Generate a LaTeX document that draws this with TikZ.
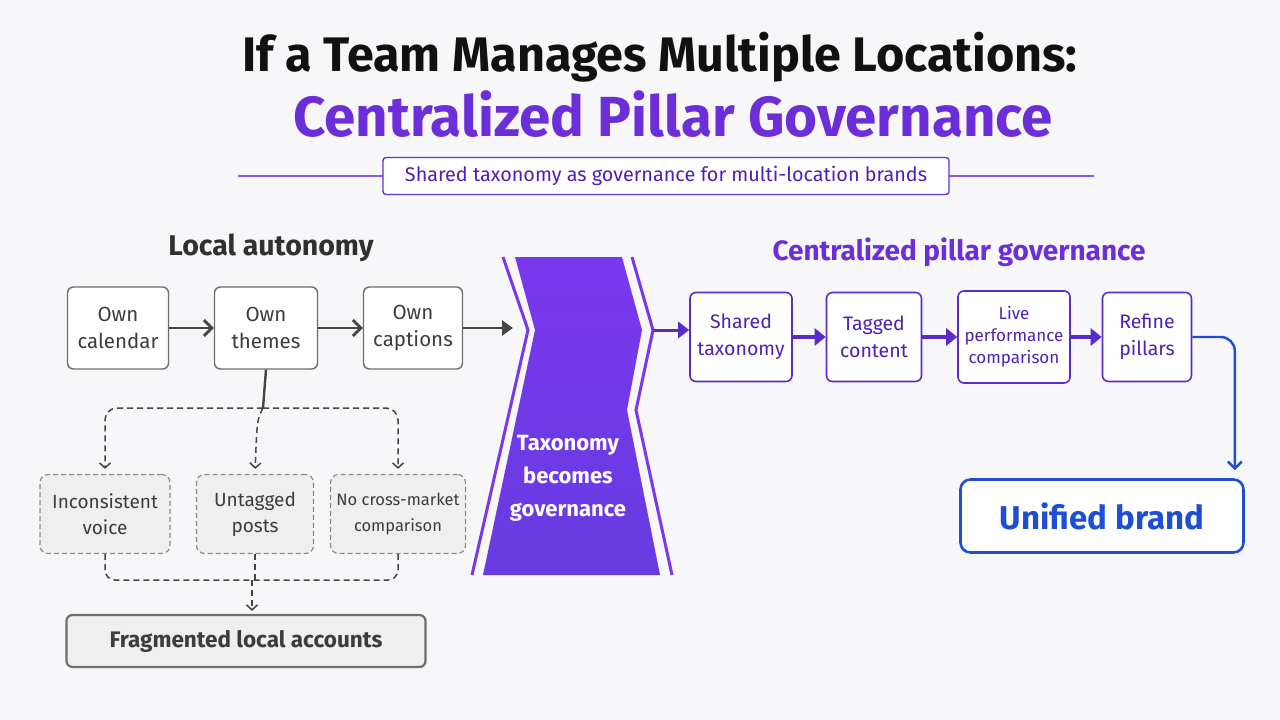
\documentclass[tikz,border=0pt]{standalone}
\usepackage{fontspec}
\setmainfont{Fira Sans}
\usetikzlibrary{arrows.meta,positioning}

\definecolor{bgcol}{HTML}{F7F7FA}
\definecolor{titleblack}{HTML}{111111}
\definecolor{titlepurple}{HTML}{6B2ED8}
\definecolor{subpurple}{HTML}{4D1FB8}
\definecolor{boxgray}{HTML}{6E6E6E}
\definecolor{txtgray}{HTML}{3C3C3C}
\definecolor{dashgray}{HTML}{8A8A8A}
\definecolor{riskfill}{HTML}{EFEFF0}
\definecolor{arrgray}{HTML}{454545}
\definecolor{govtop}{HTML}{7A38EE}
\definecolor{govbot}{HTML}{673BE0}
\definecolor{pillline}{HTML}{5A2BC8}
\definecolor{pilltext}{HTML}{4B22B2}
\definecolor{brandblue}{HTML}{1E4ED4}

\tikzset{
  ownbox/.style={draw=boxgray, line width=1.4pt, fill=white, rounded corners=6pt,
    align=center, text=txtgray, font=\fontsize{20.5}{27}\selectfont, minimum height=82pt},
  riskbox/.style={draw=dashgray, dash pattern=on 5pt off 3pt, line width=1.2pt, fill=riskfill,
    rounded corners=8pt, align=center, text=txtgray, font=\fontsize{19}{26}\selectfont,
    minimum height=79pt},
  pillbox/.style={draw=pillline, line width=1.6pt, fill=white, rounded corners=6pt,
    align=center, text=pilltext, font=\fontsize{19.5}{27}\selectfont, minimum height=89pt},
  grayarrow/.style={arrgray, line width=2.8pt, -{Straight Barb[length=8pt,width=16pt]}},
  dasharrow/.style={arrgray, line width=1.5pt, dash pattern=on 6pt off 4pt,
    -{Straight Barb[length=5pt,width=11pt]}},
  pillarrow/.style={pillline, line width=3.8pt, -{Triangle[length=11pt,width=17pt]}}
}

\begin{document}
\begin{tikzpicture}[x=1pt, y=-1pt, every node/.style={inner sep=0pt}]
  \fill[bgcol] (0,0) rectangle (1280,720);
  \useasboundingbox (0,0) rectangle (1280,720);

  \node[titleblack, font=\fontsize{48.5}{56}\bfseries] (title) at (660,57)
    {If a Team Manages Multiple Locations:};
  \node[titlepurple, font=\fontsize{56.5}{64}\bfseries] (subtitle) at (673,114)
    {Centralized Pillar Governance};

  \draw[titlepurple!80, line width=1.2pt] (238,176) -- (1094,176);
  \node[draw=titlepurple, line width=1.4pt, fill=white, rounded corners=3pt,
    minimum width=566pt, minimum height=37pt, text=subpurple,
    font=\fontsize{19.8}{24}\selectfont] (tagline) at (666,176)
    {Shared taxonomy as governance for multi-location brands};

  \node[txtgray!80!black, font=\fontsize{28.5}{32}\bfseries] (localhead) at (271,248)
    {Local autonomy};
  \node[titlepurple, font=\fontsize{28}{32}\bfseries] (centralhead) at (959,252)
    {Centralized pillar governance};

  \node[ownbox, minimum width=101pt] (calendar) at (118,328) {Own\\calendar};
  \node[ownbox, minimum width=103pt] (themes) at (266,328) {Own\\themes};
  \node[ownbox, minimum width=99pt] (captions) at (413,328) {Own\\captions};

  \draw[grayarrow] (calendar) -- (themes);
  \draw[grayarrow] (themes) -- (captions);

  \node[riskbox, minimum width=130pt] (voice) at (105,514) {Inconsistent\\voice};
  \node[riskbox, minimum width=117pt] (untagged) at (255,514) {Untagged\\posts};
  \node[riskbox, minimum width=135pt, font=\fontsize{16.5}{26}\selectfont] (nocross) at (398,514)
    {No cross-market\\comparison};

  \coordinate (split) at (263,408);
  \draw[arrgray, line width=2.4pt] (themes.south) -- (split);
  \draw[dasharrow, rounded corners=12pt, shorten >=5pt] (split) -| (voice.north);
  \draw[dasharrow, rounded corners=12pt, shorten >=5pt] (split) -| (nocross.north);
  \draw[dasharrow, shorten >=5pt] (split) .. controls (257,420) .. (untagged.north);

  \node[draw=boxgray, line width=2.2pt, fill=riskfill, rounded corners=6pt,
    minimum width=359pt, minimum height=52pt, text=txtgray,
    font=\fontsize{22.5}{26}\bfseries] (fragmented) at (246,641) {Fragmented local accounts};

  \coordinate (merge) at (252,580);
  \draw[arrgray, line width=1.5pt, dash pattern=on 6pt off 4pt, rounded corners=10pt]
    (voice.south) |- (merge);
  \draw[arrgray, line width=1.5pt, dash pattern=on 6pt off 4pt, rounded corners=10pt]
    (nocross.south) |- (merge);
  \draw[arrgray, line width=1.5pt, dash pattern=on 6pt off 4pt]
    (untagged.south) -- (untagged.south |- merge);
  \draw[dasharrow, shorten >=3pt] (merge) -- (fragmented.north -| merge);

  \shade[top color=govtop, bottom color=govbot]
    (515,257) -- (622,257) -- (642,330) -- (627,410) -- (660,575) -- (483,575) -- (535,330) -- cycle;
  \draw[govtop, line width=3pt] (503,257) -- (528,330) -- (472,575);
  \draw[govtop, line width=3pt] (632,257) -- (653,330) -- (636,410) -- (672,575);
  \coordinate (govin) at (513,328);
  \coordinate (govout) at (653,330);
  \node[white, align=center, font=\fontsize{22}{33}\bfseries] (govtext) at (568,478)
    {Taxonomy\\becomes\\governance};

  \draw[arrgray, line width=2.6pt, -{Triangle[length=11pt,width=15pt]}] (captions) -- (govin);

  \node[pillbox, minimum width=102pt] (shared) at (741,337) {Shared\\taxonomy};
  \node[pillbox, minimum width=95pt] (tagged) at (874,337) {Tagged\\content};
  \node[pillbox, minimum width=112pt, minimum height=92pt, font=\fontsize{17}{22}\selectfont]
    (live) at (1014,337) {Live\\performance\\comparison};
  \node[pillbox, minimum width=89pt] (refine) at (1147,337) {Refine\\pillars};

  \draw[pillline, line width=3pt, -{Triangle[length=11pt,width=16pt]}] (govout) -- (shared.west |- govout);
  \draw[pillarrow] (shared) -- (tagged);
  \draw[pillarrow] (tagged) -- (live);
  \draw[pillarrow] (live) -- (refine);

  \node[draw=brandblue, line width=2.6pt, fill=white, rounded corners=10pt,
    minimum width=283pt, minimum height=73pt, text=brandblue,
    font=\fontsize{33}{38}\bfseries] (unified) at (1102,516) {Unified brand};
  \draw[brandblue, line width=2.4pt, rounded corners=14pt, shorten >=8pt,
    -{Straight Barb[length=7pt,width=14pt]}]
    (refine.east) -| ([xshift=-10pt]unified.north east);
\end{tikzpicture}
\end{document}
